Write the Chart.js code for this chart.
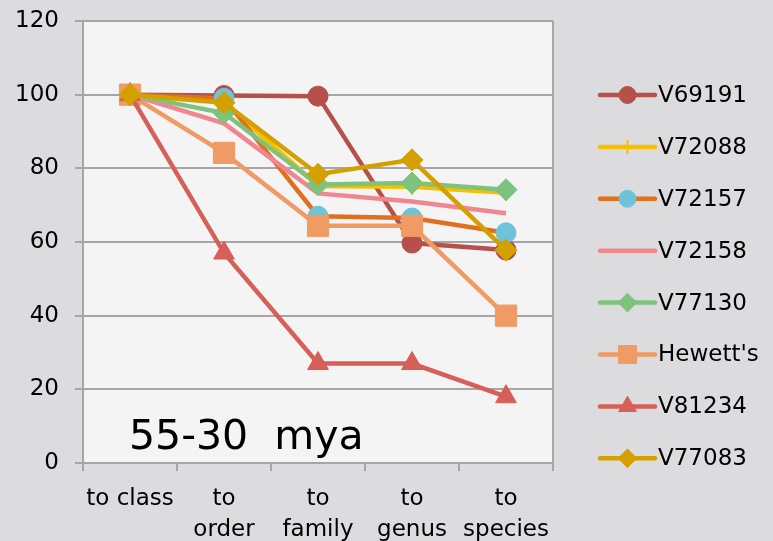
<!DOCTYPE html>
<html>
<head>
<meta charset="utf-8">
<script src="https://cdn.jsdelivr.net/npm/chart.js@4/dist/chart.umd.min.js"></script>
<style>
  html, body { margin: 0; padding: 0; background: #dcdcdf; }
  #wrap { width: 773px; height: 541px; position: relative; }
</style>
</head>
<body>
<div id="wrap"><canvas id="chart"></canvas></div>
<script>
// categories (x axis)
const categories = [['to class'], ['to', 'order'], ['to', 'family'], ['to', 'genus'], ['to', 'species']];

// series
const seriesNames = ['V69191', 'V72088', 'V72157', 'V72158', 'V77130', "Hewett's", 'V81234', 'V77083'];
const v69191 = [100, 99.8, 99.6, 59.7, 57.8];
const v72088 = [100, 98, 75.2, 75, 73.4];
const v72157 = [100, 99, 67, 66.5, 62.5];
const v72158 = [100, 92.2, 73.2, 71, 67.8];
const v77130 = [100, 95, 75.6, 76, 74.2];
const hewetts = [100, 84.2, 64.4, 64.4, 40];
const v81234 = [100, 57, 27, 27, 18];
const v77083 = [100, 97.8, 78.4, 82.3, 57.8];

const yTicks = [0, 20, 40, 60, 80, 100, 120];
const chartLabel = '55-30  mya';

const seriesValues = [v69191, v72088, v72157, v72158, v77130, hewetts, v81234, v77083];
const lineColors = ['#b5504a', '#f5c000', '#e0701f', '#f0868f', '#7dc27d', '#f09a64', '#d65f58', '#d4a000'];
const pointFills = ['#b5504a', '#f5c000', '#6ec3d8', '#f0868f', '#7dc27d', '#f09a64', '#d65f58', '#d4a000'];
const pointStyles = ['circle', 'cross', 'circle', 'circle', 'rectRot', 'rect', 'triangle', 'rectRot'];
const pointSizes = [10, 8, 10, 0, 11, 15, 12, 11];

const FONT = '"DejaVu Sans", sans-serif';

const datasets = seriesNames.map((name, i) => ({
    label: name,
    data: seriesValues[i],
    borderColor: lineColors[i],
    borderWidth: 4.5,
    backgroundColor: pointFills[i],
    pointBackgroundColor: pointFills[i],
    pointBorderColor: pointStyles[i] === 'cross' ? lineColors[i] : pointFills[i],
    pointBorderWidth: pointStyles[i] === 'cross' ? 2 : 1,
    pointStyle: pointStyles[i],
    pointRadius: pointSizes[i],
    pointHoverRadius: pointSizes[i],
    tension: 0,
    order: seriesNames.length - i   // later series on top, like the original
}));

const backdrop = {
    id: 'backdrop',
    beforeDraw(chart) {
        const { ctx, chartArea: a } = chart;
        ctx.save();
        ctx.fillStyle = '#dcdcdf';
        ctx.fillRect(0, 0, chart.width, chart.height);
        ctx.fillStyle = '#f4f4f4';
        ctx.fillRect(a.left, a.top, a.right - a.left, a.bottom - a.top);
        ctx.restore();
    },
    afterDraw(chart) {
        const { ctx, chartArea: a } = chart;
        ctx.save();
        // right edge of plot
        ctx.strokeStyle = '#a6a6a6';
        ctx.lineWidth = 2;
        ctx.beginPath();
        ctx.moveTo(a.right, a.top);
        ctx.lineTo(a.right, a.bottom + 8);
        ctx.stroke();

        // label inside the plot
        ctx.fillStyle = '#000';
        ctx.font = '41px ' + FONT;
        ctx.textBaseline = 'alphabetic';
        ctx.fillText(chartLabel, a.left + 46, a.bottom - 14);

        // legend, line + marker like the original
        const x0 = 600, x1 = 655, y0 = 95, step = 51.9;
        chart.data.datasets.forEach((ds, i) => {
            const y = y0 + i * step;
            ctx.strokeStyle = ds.borderColor;
            ctx.lineWidth = 4.5;
            ctx.lineCap = 'round';
            ctx.beginPath();
            ctx.moveTo(x0, y);
            ctx.lineTo(x1, y);
            ctx.stroke();
            if (ds.pointRadius > 0 && Chart.helpers && Chart.helpers.drawPoint) {
                ctx.fillStyle = ds.pointBackgroundColor;
                ctx.strokeStyle = ds.pointBorderColor;
                ctx.lineWidth = ds.pointBorderWidth;
                ctx.lineCap = 'butt';
                Chart.helpers.drawPoint(ctx, {
                    pointStyle: ds.pointStyle,
                    radius: ds.pointRadius * 0.85,
                    rotation: 0,
                    borderWidth: ds.pointBorderWidth
                }, (x0 + x1) / 2, y);
            }
            ctx.fillStyle = '#000';
            ctx.font = '23px ' + FONT;
            ctx.textBaseline = 'middle';
            ctx.fillText(ds.label, x1 + 3, y + 1);
        });
        ctx.restore();
    }
};

new Chart(document.getElementById('chart'), {
    type: 'line',
    data: { labels: categories, datasets },
    options: {
        responsive: true,
        maintainAspectRatio: false,
        animation: false,
        layout: { padding: { top: 21, right: 220, left: 0, bottom: 0 } },
        plugins: {
            legend: { display: false },
            tooltip: { enabled: false }
        },
        scales: {
            x: {
                offset: true,
                afterFit: scale => { scale.height = 78; },
                grid: {
                    offset: true,
                    drawOnChartArea: false,
                    tickLength: 8,
                    color: '#a6a6a6',
                    lineWidth: 2
                },
                border: { color: '#a6a6a6', width: 2 },
                ticks: {
                    color: '#000',
                    font: { family: FONT, size: 23, lineHeight: 1.33 },
                    padding: 13,
                    maxRotation: 0,
                    autoSkip: false
                }
            },
            y: {
                min: 0,
                max: 120,
                afterFit: scale => {
                    scale.width = 83;
                    scale.paddingTop = 0;
                    scale.paddingBottom = 0;
                },
                afterBuildTicks: scale => { scale.ticks = yTicks.map(v => ({ value: v })); },
                grid: { color: '#a6a6a6', lineWidth: 2, tickLength: 8 },
                border: { color: '#a6a6a6', width: 2 },
                ticks: {
                    color: '#000',
                    font: { family: FONT, size: 23 },
                    padding: 16
                }
            }
        }
    },
    plugins: [backdrop]
});
</script>
</body>
</html>
